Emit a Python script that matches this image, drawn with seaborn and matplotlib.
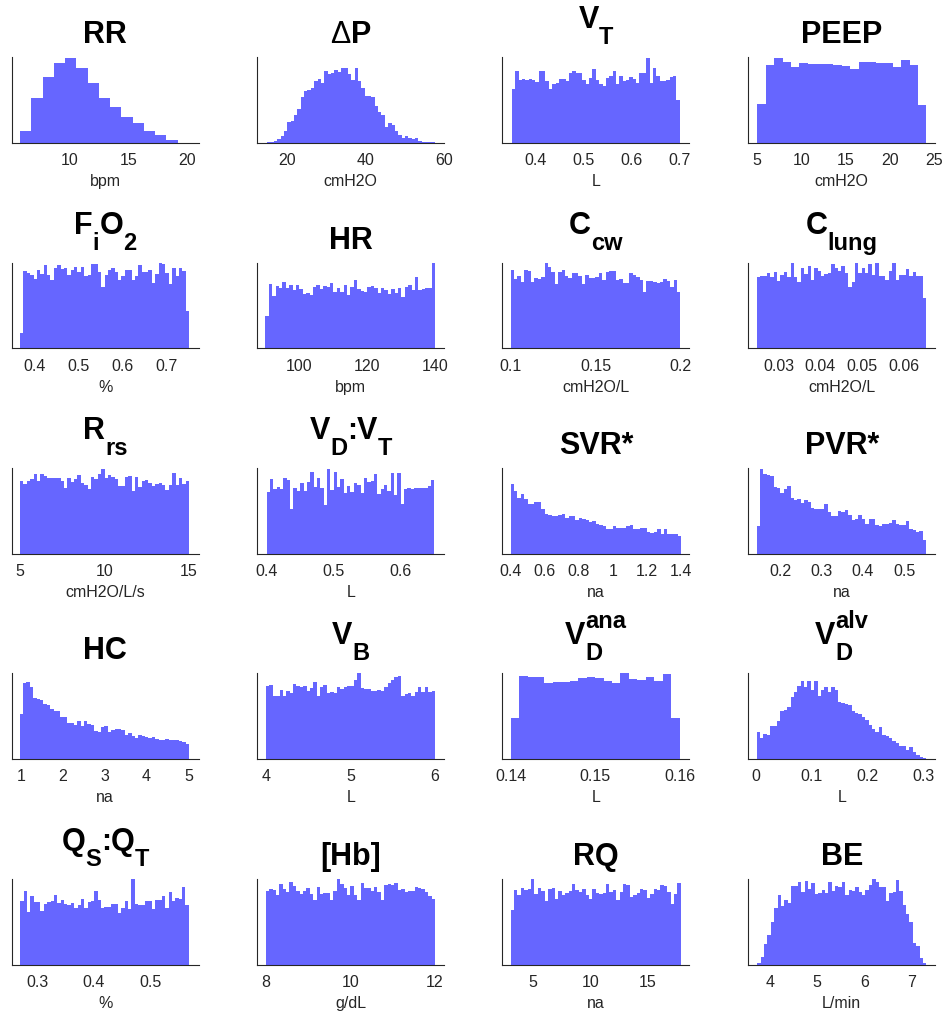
import numpy as np
import pandas as pd
import matplotlib
matplotlib.use("Agg")
import matplotlib.pyplot as plt
from matplotlib.ticker import FormatStrFormatter
import seaborn as sns

sns.set_style("white")
plt.rcParams["font.family"] = ["Liberation Sans", "DejaVu Sans"]

# ---------------- data (relative bin heights) ----------------
rr_counts = [37, 135, 200, 242, 257, 227, 180, 135, 108, 78, 60, 37, 23, 8]
rr_range = (5.82, 19.2)

dp_counts = [1, 1, 2, 4, 8, 14, 24, 25, 32, 39, 53, 61, 62, 64, 72, 75, 70, 84, 81, 82,
             85, 83, 87, 88, 80, 73, 88, 72, 64, 55, 55, 54, 43, 36, 32, 18, 23, 21, 14, 9,
             6, 8, 6, 5, 6, 2, 1.5, 1, 0.5, 0.5]
dp_range = (15.0, 57.7)

vt_counts = [162, 217, 188, 192, 190, 192, 190, 182, 218, 218, 185, 162, 178, 180, 194, 194,
             185, 212, 216, 212, 212, 190, 178, 195, 224, 190, 177, 172, 195, 202, 217, 178,
             202, 185, 190, 200, 193, 180, 212, 212, 256, 180, 225, 202, 187, 187, 190, 198,
             202, 130]
vt_range = (0.35, 0.70)

peep_counts = [117, 235, 255, 245, 228, 240, 238, 237, 237, 236, 233, 222, 245, 243, 242,
               240, 228, 250, 235, 114]
peep_range = (5.0, 24.1)

fio2_counts = [45, 233, 227, 220, 207, 235, 223, 250, 220, 205, 240, 250, 237, 240, 220, 235,
               243, 230, 245, 217, 220, 253, 252, 230, 183, 220, 235, 240, 230, 205, 217, 235,
               235, 205, 217, 250, 230, 230, 235, 197, 223, 255, 252, 227, 193, 240, 217, 240,
               233, 112]
fio2_range = (0.366, 0.752)

hr_counts = [97, 193, 157, 187, 180, 199, 180, 190, 175, 190, 177, 162, 167, 159, 183, 190,
             177, 187, 185, 195, 169, 182, 168, 190, 160, 183, 204, 177, 173, 170, 185, 187,
             180, 167, 180, 175, 163, 177, 167, 180, 153, 185, 190, 175, 213, 175, 177, 180,
             182, 257]
hr_range = (90.0, 140.0)

ccw_counts = [235, 207, 217, 198, 235, 232, 198, 210, 208, 213, 257, 245, 230, 192, 228, 235,
              217, 212, 225, 227, 217, 192, 220, 210, 210, 215, 227, 205, 228, 232, 232, 205,
              208, 195, 195, 225, 220, 215, 205, 168, 203, 202, 200, 195, 198, 207, 202, 183,
              205, 170]
ccw_range = (0.1, 0.2)

clung_counts = [213, 217, 217, 227, 215, 230, 203, 220, 230, 215, 255, 215, 200, 240, 223,
                248, 205, 240, 233, 217, 223, 225, 252, 240, 232, 248, 225, 183, 200, 255,
                225, 240, 225, 252, 220, 255, 217, 217, 205, 233, 257, 205, 220, 220, 237,
                217, 230, 217, 217, 152]
clung_range = (0.0248, 0.0652)

rrs_counts = [218, 208, 217, 222, 238, 217, 238, 232, 225, 227, 225, 227, 218, 195, 225, 215,
              223, 235, 212, 205, 192, 228, 224, 238, 253, 225, 235, 230, 222, 202, 202, 230,
              233, 188, 230, 198, 217, 220, 212, 202, 208, 212, 205, 190, 205, 242, 205, 225,
              208, 217]
rrs_range = (5.0, 15.0)

vdvt_counts = [185, 222, 192, 198, 192, 225, 220, 133, 195, 188, 212, 188, 215, 245, 198, 227,
               195, 147, 253, 190, 243, 198, 222, 180, 202, 185, 210, 205, 182, 227, 215, 217,
               238, 178, 192, 205, 188, 242, 175, 242, 150, 192, 195, 193, 195, 195, 195, 197,
               202, 220]
vdvt_range = (0.4, 0.65)

svr_counts = [207, 188, 167, 177, 162, 148, 148, 155, 155, 135, 120, 117, 113, 112, 115, 118,
              107, 112, 112, 102, 107, 105, 100, 95, 98, 90, 85, 83, 73, 73, 82, 78, 78, 77,
              82, 85, 73, 75, 78, 77, 65, 62, 65, 75, 60, 73, 60, 58, 60, 52]
svr_range = (0.4, 1.4)

pvr_counts = [83, 253, 238, 235, 233, 198, 195, 182, 192, 202, 165, 160, 162, 153, 160, 155,
              138, 133, 135, 135, 148, 125, 112, 112, 128, 125, 132, 115, 100, 105, 117, 103,
              90, 105, 105, 85, 83, 88, 88, 92, 102, 88, 85, 87, 98, 75, 72, 65, 68, 42]
pvr_range = (0.1437, 0.552)

hc_counts = [135, 228, 231, 218, 183, 181, 178, 165, 163, 151, 143, 143, 125, 125, 108, 108,
             103, 113, 98, 113, 106, 103, 83, 81, 96, 100, 81, 88, 91, 90, 86, 73, 78, 68, 63,
             73, 70, 66, 63, 65, 61, 58, 58, 61, 58, 56, 56, 55, 50, 46]
hc_range = (0.976, 5.018)

vb_counts = [220, 223, 191, 191, 208, 188, 205, 200, 226, 221, 218, 221, 205, 213, 231, 188,
             218, 223, 200, 203, 198, 218, 211, 216, 220, 220, 238, 258, 213, 210, 210, 205,
             205, 208, 205, 216, 230, 238, 246, 250, 190, 195, 198, 188, 203, 218, 203, 218,
             203, 206]
vb_range = (4.0, 6.0)

vdana_counts = [123, 250, 248, 248, 228, 233, 233, 235, 243, 246, 243, 235, 228, 258, 241,
                238, 246, 236, 255, 123]
vdana_range = (0.14, 0.16)

vdalv_counts = [81, 63, 75, 73, 100, 100, 113, 143, 146, 156, 186, 203, 220, 235, 218, 235,
                208, 235, 190, 208, 216, 203, 216, 208, 170, 168, 166, 161, 145, 138, 135, 126,
                118, 103, 90, 80, 95, 73, 68, 63, 53, 48, 38, 38, 28, 36, 20, 11, 6, 2]
vdalv_range = (0.001, 0.306)

qsqt_counts = [187, 218, 155, 202, 185, 185, 158, 180, 185, 188, 205, 182, 192, 180, 175, 182,
               168, 175, 195, 168, 185, 187, 217, 192, 168, 170, 170, 180, 180, 153, 168, 187,
               165, 253, 180, 177, 175, 188, 188, 165, 190, 192, 202, 168, 215, 188, 198, 195,
               230, 175]
qsqt_range = (0.269, 0.568)

hb_counts = [217, 222, 220, 205, 238, 223, 215, 245, 232, 218, 208, 218, 225, 210, 190, 228,
             210, 212, 212, 190, 217, 252, 238, 225, 205, 232, 205, 190, 242, 225, 225, 218,
             228, 215, 190, 235, 238, 235, 242, 220, 223, 215, 217, 218, 228, 225, 223, 215,
             202, 195]
hb_range = (8.0, 12.0)

rq_counts = [162, 220, 207, 225, 220, 223, 252, 210, 225, 218, 187, 223, 227, 195, 217, 207,
             213, 218, 237, 220, 215, 223, 205, 195, 222, 212, 210, 212, 237, 215, 220, 190,
             215, 238, 235, 200, 205, 212, 223, 220, 198, 210, 223, 220, 235, 232, 215, 178,
             210, 242]
rq_range = (3.08, 17.85)

be_counts = [5, 23, 60, 88, 127, 168, 205, 172, 190, 182, 232, 232, 245, 215, 248, 223, 242,
             210, 213, 220, 213, 245, 218, 232, 228, 245, 205, 220, 217, 228, 215, 205, 220,
             235, 252, 245, 230, 230, 188, 212, 215, 250, 217, 175, 150, 125, 65, 55, 20, 5]
be_range = (3.73, 7.32)

# y-axis top (same units as the counts) for each panel
y_tops = [258, 100, 258, 258, 257, 257, 257, 257, 255, 255, 255, 255,
          258, 258, 258, 258, 253, 253, 253, 253]

# x-axis limits and ticks
x_limits = [(5.1, 21), (12.5, 60), (0.33, 0.72), (4.0, 25.1),
            (0.347, 0.774), (87.6, 142.6), (0.0951, 0.2053), (0.0228, 0.0674),
            (4.51, 15.57), (0.386, 0.665), (0.351, 1.449), (0.1236, 0.574),
            (0.785, 5.247), (3.897, 6.111), (0.13901, 0.16115), (-0.0138, 0.322),
            (0.254, 0.5855), (7.8, 12.22), (2.355, 18.58), (3.539, 7.51)]
x_ticks = [[10, 15, 20], [20, 40, 60], [0.4, 0.5, 0.6, 0.7], [5, 10, 15, 20, 25],
           [0.4, 0.5, 0.6, 0.7], [100, 120, 140], [0.1, 0.15, 0.2], [0.03, 0.04, 0.05, 0.06],
           [5, 10, 15], [0.4, 0.5, 0.6], [0.4, 0.6, 0.8, 1.0, 1.2, 1.4], [0.2, 0.3, 0.4, 0.5],
           [1, 2, 3, 4, 5], [4, 5, 6], [0.14, 0.15, 0.16], [0, 0.1, 0.2, 0.3],
           [0.3, 0.4, 0.5], [8, 10, 12], [5, 10, 15], [4, 5, 6, 7]]

units = ["bpm", "cmH2O", "L", "cmH2O", "%", "bpm", "cmH2O/L", "cmH2O/L",
         "cmH2O/L/s", "L", "na", "na", "na", "L", "L", "L", "%", "g/dL", "na", "L/min"]

# titles: segments of (text, kind); n=normal bold, g=symbol (regular weight), sub, supsub
titles = [
    [("RR", "n")], [("\u0394", "g"), ("P", "n")], [("V", "n"), ("T", "sub")], [("PEEP", "n")],
    [("F", "n"), ("i", "sub"), ("O", "n"), ("2", "sub")], [("HR", "n")],
    [("C", "n"), ("cw", "sub")], [("C", "n"), ("lung", "sub")],
    [("R", "n"), ("rs", "sub")],
    [("V", "n"), ("D", "sub"), (":", "n"), ("V", "n"), ("T", "sub")],
    [("SVR*", "n")], [("PVR*", "n")],
    [("HC", "n")], [("V", "n"), ("B", "sub")],
    [("V", "n"), (("ana", "D"), "supsub")], [("V", "n"), (("alv", "D"), "supsub")],
    [("Q", "n"), ("S", "sub"), (":", "n"), ("Q", "n"), ("T", "sub")],
    [("[Hb]", "n")], [("RQ", "n")], [("BE", "n")],
]

counts_list = [rr_counts, dp_counts, vt_counts, peep_counts, fio2_counts, hr_counts,
               ccw_counts, clung_counts, rrs_counts, vdvt_counts, svr_counts, pvr_counts,
               hc_counts, vb_counts, vdana_counts, vdalv_counts, qsqt_counts, hb_counts,
               rq_counts, be_counts]
ranges_list = [rr_range, dp_range, vt_range, peep_range, fio2_range, hr_range, ccw_range,
               clung_range, rrs_range, vdvt_range, svr_range, pvr_range, hc_range, vb_range,
               vdana_range, vdalv_range, qsqt_range, hb_range, rq_range, be_range]

# ---------------- layout ----------------
W, H = 943, 1011
fig = plt.figure(figsize=(W / 100, H / 100), dpi=100)
col_left = [11.7, 257.3, 502.3, 748.3]
col_w = 187.0
row_top = [57.3, 262.7, 468.3, 673.3, 879.0]
row_h = 85.5
axis_col = "#262626"

axes = []
for i in range(20):
    r, c = divmod(i, 4)
    ax = fig.add_axes([col_left[c] / W, 1 - (row_top[r] + row_h) / H, col_w / W, row_h / H])
    counts = np.asarray(counts_list[i], dtype=float)
    lo, hi = ranges_list[i]
    nb = len(counts)
    step = (hi - lo) / nb
    df = pd.DataFrame({"value": lo + step * (np.arange(nb) + 0.5), "count": counts})
    sns.histplot(data=df, x="value", weights="count", bins=nb, binrange=(lo, hi),
                 element="step", fill=True, color="blue", alpha=0.6, linewidth=0,
                 ax=ax, zorder=3)
    ax.set_xlim(*x_limits[i])
    ax.set_ylim(0, y_tops[i])
    ax.set_yticks([])
    ax.set_ylabel("")
    ax.set_xticks(x_ticks[i])
    ax.xaxis.set_major_formatter(FormatStrFormatter("%g"))
    ax.tick_params(axis="x", direction="in", length=2.5, width=0.6, color=axis_col,
                   labelsize=11.5, labelcolor=axis_col, pad=7.5)
    ax.set_xlabel(units[i], fontsize=11.5, color=axis_col, labelpad=4.5)
    for s in ["top", "right"]:
        ax.spines[s].set_visible(False)
    for s in ["left", "bottom"]:
        ax.spines[s].set_color(axis_col)
        ax.spines[s].set_linewidth(0.8)
    ax.set_facecolor("white")
    axes.append(ax)

# ---------------- rich titles ----------------
fig.canvas.draw()
renderer = fig.canvas.get_renderer()
MAIN, SUB = 22, 17


def make_text(s, size, weight="bold"):
    return fig.text(0, 0, s, fontsize=size, fontweight=weight, color="black",
                    ha="left", va="baseline", family=["Liberation Sans", "DejaVu Sans"])


for ax, segs in zip(axes, titles):
    bb = ax.get_window_extent(renderer)
    top = bb.y1
    cx = 0.5 * (bb.x0 + bb.x1)
    has_script = any(k in ("sub", "supsub") for _, k in segs)
    main_base = top + (29 if has_script else 14)
    sub_base = top + 13
    sup_base = top + 45
    placed = []
    for s, kind in segs:
        if kind in ("n", "g"):
            t = make_text(s, MAIN, "bold" if kind == "n" else "normal")
            placed.append(([(t, main_base)], t.get_window_extent(renderer).width))
        elif kind == "sub":
            t = make_text(s, SUB)
            placed.append(([(t, sub_base)], t.get_window_extent(renderer).width))
        else:
            sup_s, sub_s = s
            t1 = make_text(sup_s, SUB)
            t2 = make_text(sub_s, SUB)
            w = max(t1.get_window_extent(renderer).width, t2.get_window_extent(renderer).width)
            placed.append(([(t1, sup_base), (t2, sub_base)], w))
    total = sum(w for _, w in placed)
    x = cx - total / 2
    for group, w in placed:
        for t, yb in group:
            t.set_position((x / W, yb / H))
        x += w

fig.savefig("out.png", dpi=100, facecolor="white")
